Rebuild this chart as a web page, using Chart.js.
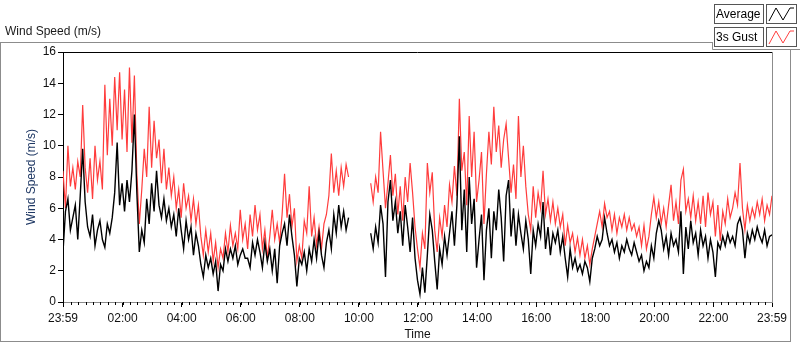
<!DOCTYPE html>
<html><head><meta charset="utf-8">
<script src="https://cdn.jsdelivr.net/npm/chart.js@4.4.1/dist/chart.umd.min.js"></script>
<style>html,body{margin:0;padding:0;background:#fff;} #wrap{width:800px;height:342px;position:relative;}</style>
</head><body><div id="wrap"><canvas id="c" width="800" height="342"></canvas></div>
<script>
// one sample every 5 minutes, starting at 23:59
const sampleStepMinutes = 5;
const averageSpeed = [
3.2,5.8,6.6,4.6,5.4,6.2,4.0,6.8,9.8,6.4,
4.8,4.2,5.6,3.6,4.6,5.2,4.0,3.5,5.0,4.4,
5.4,7.0,10.2,6.2,7.6,5.8,7.8,6.4,8.4,12.0,
7.0,3.2,4.6,3.8,6.6,5.0,7.6,5.8,8.4,6.2,
5.4,6.6,5.2,6.0,4.8,5.6,4.2,6.0,4.6,3.4,
5.2,4.0,4.8,3.0,4.4,3.6,2.4,1.6,3.0,2.2,
2.8,1.8,2.6,0.7,2.4,2.0,3.4,2.6,3.4,2.8,
3.6,2.4,3.0,3.4,2.8,2.8,2.2,3.8,3.0,4.0,
3.2,2.2,3.8,2.6,3.4,2.0,3.4,1.2,3.6,4.4,
5.0,3.6,5.6,4.2,3.0,1.0,2.8,2.4,3.2,2.0,
3.4,2.6,4.0,2.8,4.4,3.0,2.2,3.8,4.6,3.4,
5.6,4.4,6.2,4.8,5.8,4.6,5.4,null,null,null,
null,null,null,null,null,4.4,3.4,4.8,3.8,6.2,
5.0,1.6,6.4,7.8,5.2,6.4,4.4,5.8,3.6,6.2,
4.8,3.2,5.4,2.8,1.4,0.5,2.2,0.6,3.0,5.6,
4.6,2.6,0.8,3.4,2.4,4.2,3.0,4.4,5.8,3.6,
6.2,10.6,4.6,7.2,3.2,8.0,5.0,6.6,2.2,4.0,
5.6,1.4,4.6,6.0,2.8,5.8,4.6,7.2,5.4,2.6,
6.8,7.8,4.2,6.0,3.6,5.6,4.4,3.4,5.2,4.0,
1.8,4.6,3.6,5.0,4.2,6.4,3.4,4.8,3.0,4.4,
3.8,4.6,3.2,4.2,2.8,1.6,3.4,2.2,2.8,2.0,
2.4,1.8,2.6,2.2,1.3,2.8,3.4,4.2,3.6,4.0,
5.4,4.4,3.6,4.0,3.2,3.8,2.8,3.6,3.2,4.0,
3.4,3.0,3.8,3.2,2.6,3.0,2.0,2.6,2.2,3.6,
2.8,4.4,5.2,4.6,3.4,4.2,3.0,4.4,3.6,4.0,
3.2,5.8,1.8,4.8,3.4,5.2,3.8,4.4,3.0,4.6,
3.6,4.2,2.8,4.0,3.2,1.6,3.8,3.4,4.2,3.6,
4.4,3.8,4.2,3.6,5.0,5.4,4.6,2.8,4.4,3.8,
4.6,4.0,4.8,4.2,3.8,4.6,3.6,4.2,4.3
];
const gustSpeed = [
8.4,6.0,10.0,7.4,8.6,7.2,9.0,8.0,12.6,8.6,
7.0,9.2,6.6,10.0,7.8,9.0,7.2,13.9,9.4,13.0,
10.0,14.4,11.0,14.7,10.4,13.6,9.6,15.0,10.2,14.5,
8.2,5.0,7.2,9.8,8.0,12.5,8.6,11.6,9.2,10.4,
7.6,9.8,7.2,8.6,6.8,8.0,6.0,7.2,5.4,7.6,
6.0,6.8,5.2,6.6,5.0,6.2,4.2,3.0,4.6,3.2,
4.4,2.6,3.8,2.2,3.4,2.8,4.4,3.2,4.9,3.6,
4.4,3.4,5.9,4.0,5.0,3.4,5.6,4.2,6.2,4.6,
5.6,3.4,4.6,2.8,4.2,5.9,4.0,5.0,3.8,5.6,
8.2,5.4,6.9,4.8,6.0,2.6,3.6,2.8,5.2,4.4,
7.4,4.2,5.4,3.6,4.8,3.4,5.0,5.6,6.8,9.5,
7.0,8.4,6.8,8.6,7.4,8.8,8.0,null,null,null,
null,null,null,null,null,7.6,6.4,8.0,7.0,10.9,
8.4,6.0,7.6,9.4,6.8,8.2,5.6,7.4,5.2,8.0,
6.4,8.9,7.0,4.8,3.4,2.2,4.4,3.4,8.9,7.0,
8.3,4.6,3.2,5.4,4.2,6.2,4.8,7.5,6.4,8.7,
6.8,13.0,8.4,9.6,6.2,11.9,8.0,10.9,6.4,7.8,
9.6,5.0,8.2,10.9,8.8,12.5,9.6,11.3,8.6,10.4,
11.4,9.2,7.0,8.8,6.6,11.9,8.0,10.0,7.4,5.6,
4.6,7.4,5.4,7.0,6.0,8.4,5.6,6.6,5.2,6.4,
5.0,6.0,4.8,5.6,3.6,4.9,3.8,4.4,3.2,4.1,
3.0,4.0,2.8,3.6,2.4,3.4,4.2,5.0,5.8,4.8,
6.3,5.4,5.8,4.6,5.6,4.4,5.4,4.8,5.6,4.6,
5.4,4.6,5.0,4.2,4.8,3.6,4.9,3.4,4.2,5.6,
6.7,5.4,6.4,5.0,6.0,4.8,6.2,7.5,5.2,6.4,
5.0,7.8,8.5,5.8,6.6,5.4,6.8,5.2,6.4,5.0,
6.8,4.8,7.0,5.6,6.4,4.2,6.2,3.9,5.8,5.0,
6.6,5.4,6.0,7.0,6.2,8.9,6.0,4.6,6.2,5.2,
6.0,5.4,6.4,5.6,6.6,5.2,6.2,5.6,6.8
];
const tickMinutes = [0,121,241,361,481,601,721,841,961,1081,1201,1321,1440];
const tickLabels = ['23:59','02:00','04:00','06:00','08:00','10:00','12:00','14:00','16:00','18:00','20:00','22:00','23:59'];
const minorTickStep = 15;

const FONT = "'Liberation Sans', Arial, sans-serif";
const toPoints = arr => arr.map((v, i) => ({x: i * sampleStepMinutes, y: v}));

const frame = {
  id: 'frame',
  beforeDraw(chart) {
    const c = chart.ctx;
    c.save();
    c.fillStyle = '#fff';
    c.fillRect(0, 0, chart.width, chart.height);
    c.strokeStyle = '#8c8c8c';
    c.lineWidth = 1;
    c.beginPath();
    c.moveTo(0, 42.5); c.lineTo(712, 42.5);
    c.moveTo(0.5, 42); c.lineTo(0.5, 342);
    c.moveTo(0, 341.5); c.lineTo(790, 341.5);
    c.moveTo(790.5, 49); c.lineTo(790.5, 342);
    c.moveTo(712.5, 42); c.lineTo(712.5, 49.5); c.lineTo(800, 49.5);
    c.stroke();
    c.fillStyle = '#1a1a1a';
    c.font = '12px ' + FONT;
    c.textBaseline = 'middle';
    c.textAlign = 'left';
    c.fillText('Wind Speed (m/s)', 5, 32);
    const items = [['Average', '#000', 4], ['3s Gust', 'rgb(255,64,64)', 27]];
    items.forEach(([t, col, y]) => {
      c.strokeStyle = '#555';
      c.strokeRect(714.5, y + 0.5, 49, 19);
      c.strokeRect(766.5, y + 0.5, 30, 19);
      c.fillStyle = '#000';
      c.fillText(t, 716, y + 10.5);
      c.strokeStyle = col;
      c.beginPath();
      c.moveTo(769, y + 17); c.lineTo(776, y + 4); c.lineTo(783, y + 16); c.lineTo(790, y + 4); c.lineTo(794, y + 4);
      c.stroke();
    });
    c.restore();
  },
  afterDraw(chart) {
    const c = chart.ctx, a = chart.chartArea, xs = chart.scales.x;
    c.save();
    c.lineWidth = 1;
    c.strokeStyle = '#000';
    c.beginPath();
    c.moveTo(a.left, a.top + 0.5); c.lineTo(a.right, a.top + 0.5);
    c.stroke();
    c.strokeStyle = '#8c8c8c';
    c.beginPath();
    c.moveTo(a.right + 0.5, a.top); c.lineTo(a.right + 0.5, a.bottom);
    c.stroke();
    c.strokeStyle = '#000';
    c.beginPath();
    for (let m = 121 - minorTickStep * 8; m <= 1440; m += minorTickStep) {
      if (m < 0) continue;
      const px = Math.round(xs.getPixelForValue(m)) + 0.5;
      c.moveTo(px, a.bottom); c.lineTo(px, a.bottom + 3);
    }
    c.stroke();
    c.restore();
  }
};

new Chart(document.getElementById('c'), {
  type: 'line',
  data: {
    datasets: [
      {label: 'Average', data: toPoints(averageSpeed), borderColor: '#000', borderWidth: 1.4, pointRadius: 0, tension: 0, spanGaps: false, order: 1},
      {label: '3s Gust', data: toPoints(gustSpeed), borderColor: 'rgb(255,60,60)', borderWidth: 1.2, pointRadius: 0, tension: 0, spanGaps: false, order: 2}
    ]
  },
  options: {
    responsive: false,
    animation: false,
    layout: {padding: {left: 0, top: 52, right: 28, bottom: 0}},
    plugins: {legend: {display: false}, tooltip: {enabled: false}},
    scales: {
      x: {
        type: 'linear', min: 0, max: 1440,
        afterBuildTicks: s => { s.ticks = tickMinutes.map(v => ({value: v})); },
        afterFit: s => { s.height = 40; },
        ticks: {callback: (v, i) => tickLabels[i], autoSkip: false, maxRotation: 0, color: '#111', font: {size: 12, family: FONT}, padding: 4},
        grid: {drawOnChartArea: false, drawTicks: true, tickLength: 5, color: '#000'},
        border: {color: '#8c8c8c'},
        title: {display: true, text: 'Time', color: '#111', font: {size: 12, family: FONT}, padding: {top: 0, bottom: 0}}
      },
      y: {
        min: 0, max: 16,
        afterFit: s => { s.width = 63; },
        ticks: {stepSize: 2, color: '#111', font: {size: 12, family: FONT}, padding: 2},
        grid: {drawOnChartArea: false, drawTicks: true, tickLength: 5, color: '#000'},
        border: {color: '#000'},
        title: {display: true, text: 'Wind Speed (m/s)', color: '#1f3864', font: {size: 12, family: FONT}, padding: {top: 24, bottom: 0}}
      }
    }
  },
  plugins: [frame]
});
</script>
</body></html>
